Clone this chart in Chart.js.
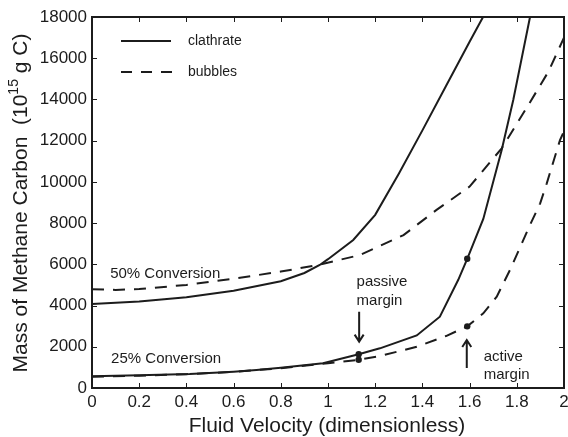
<!DOCTYPE html>
<html>
<head>
<meta charset="utf-8">
<script src="https://cdn.jsdelivr.net/npm/chart.js@4/dist/chart.umd.min.js"></script>
<style>
  html, body { margin: 0; padding: 0; background: #ffffff; }
  #wrap { width: 568px; height: 437px; }
</style>
</head>
<body>
<div id="wrap"><canvas id="chart" width="568" height="437"></canvas></div>
<script>
// Axis ticks
const velocityTicks = [0, 0.2, 0.4, 0.6, 0.8, 1, 1.2, 1.4, 1.6, 1.8, 2];
const massTicks = [0, 2000, 4000, 6000, 8000, 10000, 12000, 14000, 16000, 18000];

// 50% conversion, clathrate
const clathrate50Velocity = [0, 0.2, 0.4, 0.6, 0.8, 0.9, 0.965, 1.0, 1.107, 1.2, 1.3, 1.4, 1.5, 1.6, 1.657];
const clathrate50Mass     = [4080, 4200, 4400, 4720, 5180, 5580, 5970, 6250, 7180, 8400, 10400, 12500, 14650, 16800, 18000];

// 50% conversion, bubbles
const bubbles50Velocity = [0, 0.1, 0.2, 0.4, 0.6, 0.8, 0.95, 1.135, 1.32, 1.46, 1.6, 1.736, 1.849, 1.934, 2.0];
const bubbles50Mass     = [4790, 4760, 4800, 5000, 5300, 5650, 5950, 6450, 7420, 8640, 9770, 11630, 13730, 15350, 17000];

// 25% conversion, clathrate
const clathrate25Velocity = [0, 0.2, 0.414, 0.6, 0.697, 0.8, 0.979, 1.13, 1.22, 1.376, 1.474, 1.552, 1.59, 1.658, 1.736, 1.785, 1.856];
const clathrate25Mass     = [570, 620, 680, 790, 870, 980, 1200, 1640, 1925, 2550, 3460, 5250, 6270, 8200, 11550, 13970, 18000];

// 25% conversion, bubbles
const bubbles25Velocity = [0, 0.2, 0.4, 0.6, 0.8, 1.0, 1.13, 1.22, 1.376, 1.5, 1.59, 1.658, 1.715, 1.771, 1.856, 1.899, 1.927, 1.983, 2.0];
const bubbles25Mass     = [550, 600, 670, 780, 960, 1200, 1370, 1550, 2000, 2520, 2990, 3620, 4430, 5725, 7910, 8960, 9930, 12030, 12450];

// Passive / active margin points
const marginVelocity = [1.13, 1.13, 1.59, 1.59];
const marginMass     = [1640, 1370, 6270, 2990];

const INK = '#1c1c1c';
const DASH = [12, 9];
const FONT = '"Liberation Sans", Arial, Helvetica, sans-serif';

const toPoints = (xs, ys) => xs.map((x, i) => ({ x, y: ys[i] }));

const lineSet = (label, xs, ys, dashed) => ({
  label,
  data: toPoints(xs, ys),
  borderColor: INK,
  borderWidth: 2,
  borderDash: dashed ? DASH : [],
  pointRadius: 0,
  tension: 0,
  fill: false
});

// Frame, inward tick marks, legend, annotations and axis titles
const decorations = {
  id: 'decorations',
  afterDatasetsDraw(chart) {
    const ctx = chart.ctx;
    const { left, right, top, bottom } = chart.chartArea;
    const xs = chart.scales.x, ys = chart.scales.y;
    ctx.save();

    // inward ticks
    ctx.strokeStyle = INK;
    ctx.lineWidth = 1;
    const tl = 5;
    ctx.beginPath();
    velocityTicks.forEach(v => {
      const px = Math.round(xs.getPixelForValue(v)) + 0.5;
      ctx.moveTo(px, bottom); ctx.lineTo(px, bottom - tl);
      ctx.moveTo(px, top); ctx.lineTo(px, top + tl);
    });
    massTicks.forEach(v => {
      const py = Math.round(ys.getPixelForValue(v)) + 0.5;
      ctx.moveTo(left, py); ctx.lineTo(left + tl, py);
      ctx.moveTo(right, py); ctx.lineTo(right - tl, py);
    });
    ctx.stroke();

    // frame
    ctx.lineWidth = 2;
    ctx.strokeRect(left, top, right - left, bottom - top);

    // legend
    const lx0 = left + 29, lx1 = left + 79, ly1 = top + 24, ly2 = top + 55;
    ctx.lineWidth = 2;
    ctx.beginPath(); ctx.setLineDash([]);
    ctx.moveTo(lx0, ly1); ctx.lineTo(lx1, ly1); ctx.stroke();
    ctx.beginPath(); ctx.setLineDash([11, 9]);
    ctx.moveTo(lx0, ly2); ctx.lineTo(lx1 + 1, ly2); ctx.stroke();
    ctx.setLineDash([]);
    ctx.fillStyle = INK;
    ctx.font = '14px ' + FONT;
    ctx.textAlign = 'left';
    ctx.textBaseline = 'middle';
    ctx.fillText('clathrate', left + 96, ly1);
    ctx.fillText('bubbles', left + 96, ly2);

    // annotations
    const X = v => xs.getPixelForValue(v), Y = v => ys.getPixelForValue(v);
    ctx.font = '15px ' + FONT;
    ctx.fillText('50% Conversion', X(0.077), Y(5530));
    ctx.fillText('25% Conversion', X(0.081), Y(1400));
    ctx.fillText('passive', X(1.121), Y(5140));
    ctx.fillText('margin', X(1.121), Y(4230));
    ctx.fillText('active', X(1.66), Y(1530));
    ctx.fillText('margin', X(1.66), Y(640));

    const arrow = (x, yFrom, yTo) => {
      const px = X(x), p0 = Y(yFrom), p1 = Y(yTo);
      const dir = p1 > p0 ? 1 : -1;
      ctx.lineWidth = 2;
      ctx.beginPath();
      ctx.moveTo(px, p0); ctx.lineTo(px, p1);
      ctx.moveTo(px - 4.5, p1 - dir * 7); ctx.lineTo(px, p1); ctx.lineTo(px + 4.5, p1 - dir * 7);
      ctx.stroke();
    };
    arrow(1.132, 3700, 2250);
    arrow(1.588, 970, 2330);

    // axis titles
    ctx.font = '21px ' + FONT;
    ctx.textAlign = 'center';
    ctx.textBaseline = 'middle';
    ctx.fillText('Fluid Velocity (dimensionless)', (left + right) / 2 - 1, 426);

    ctx.translate(21, 203);
    ctx.rotate(-Math.PI / 2);
    const partA = 'Mass of Methane Carbon  (10';
    const sup = '15';
    const partB = ' g C)';
    ctx.font = '21px ' + FONT;
    const wA = ctx.measureText(partA).width;
    const wB = ctx.measureText(partB).width;
    ctx.font = '14px ' + FONT;
    const wS = ctx.measureText(sup).width;
    const total = wA + wS + wB;
    let cx = -total / 2;
    ctx.textAlign = 'left';
    ctx.font = '21px ' + FONT;
    ctx.fillText(partA, cx, 0); cx += wA;
    ctx.font = '14px ' + FONT;
    ctx.fillText(sup, cx, -7); cx += wS;
    ctx.font = '21px ' + FONT;
    ctx.fillText(partB, cx, 0);

    ctx.restore();
  }
};

new Chart(document.getElementById('chart'), {
  type: 'line',
  data: {
    datasets: [
      lineSet('clathrate 50%', clathrate50Velocity, clathrate50Mass, false),
      lineSet('bubbles 50%', bubbles50Velocity, bubbles50Mass, true),
      lineSet('clathrate 25%', clathrate25Velocity, clathrate25Mass, false),
      lineSet('bubbles 25%', bubbles25Velocity, bubbles25Mass, true),
      {
        type: 'scatter',
        label: 'margins',
        data: toPoints(marginVelocity, marginMass),
        showLine: false,
        pointRadius: 3.2,
        pointBackgroundColor: INK,
        pointBorderColor: INK,
        pointBorderWidth: 0
      }
    ]
  },
  options: {
    responsive: false,
    animation: false,
    devicePixelRatio: 1,
    layout: { padding: { left: 0, right: 4, top: 17, bottom: 0 } },
    plugins: { legend: { display: false }, tooltip: { enabled: false } },
    scales: {
      x: {
        type: 'linear',
        min: 0, max: 2,
        afterBuildTicks: s => { s.ticks = velocityTicks.map(v => ({ value: v })); },
        afterFit: s => { s.height = 49; s.paddingLeft = 0; s.paddingRight = 0; },
        grid: { display: false, drawTicks: false },
        border: { display: false },
        ticks: {
          padding: 4,
          color: INK,
          font: { family: FONT, size: 17 },
          callback: v => String(Number(v.toFixed(1)))
        }
      },
      y: {
        type: 'linear',
        min: 0, max: 18000,
        afterBuildTicks: s => { s.ticks = massTicks.map(v => ({ value: v })); },
        afterFit: s => { s.width = 92; s.paddingTop = 0; s.paddingBottom = 0; },
        grid: { display: false, drawTicks: false },
        border: { display: false },
        ticks: {
          padding: 5,
          color: INK,
          font: { family: FONT, size: 17 },
          callback: v => String(v)
        }
      }
    }
  },
  plugins: [decorations]
});
</script>
</body>
</html>
